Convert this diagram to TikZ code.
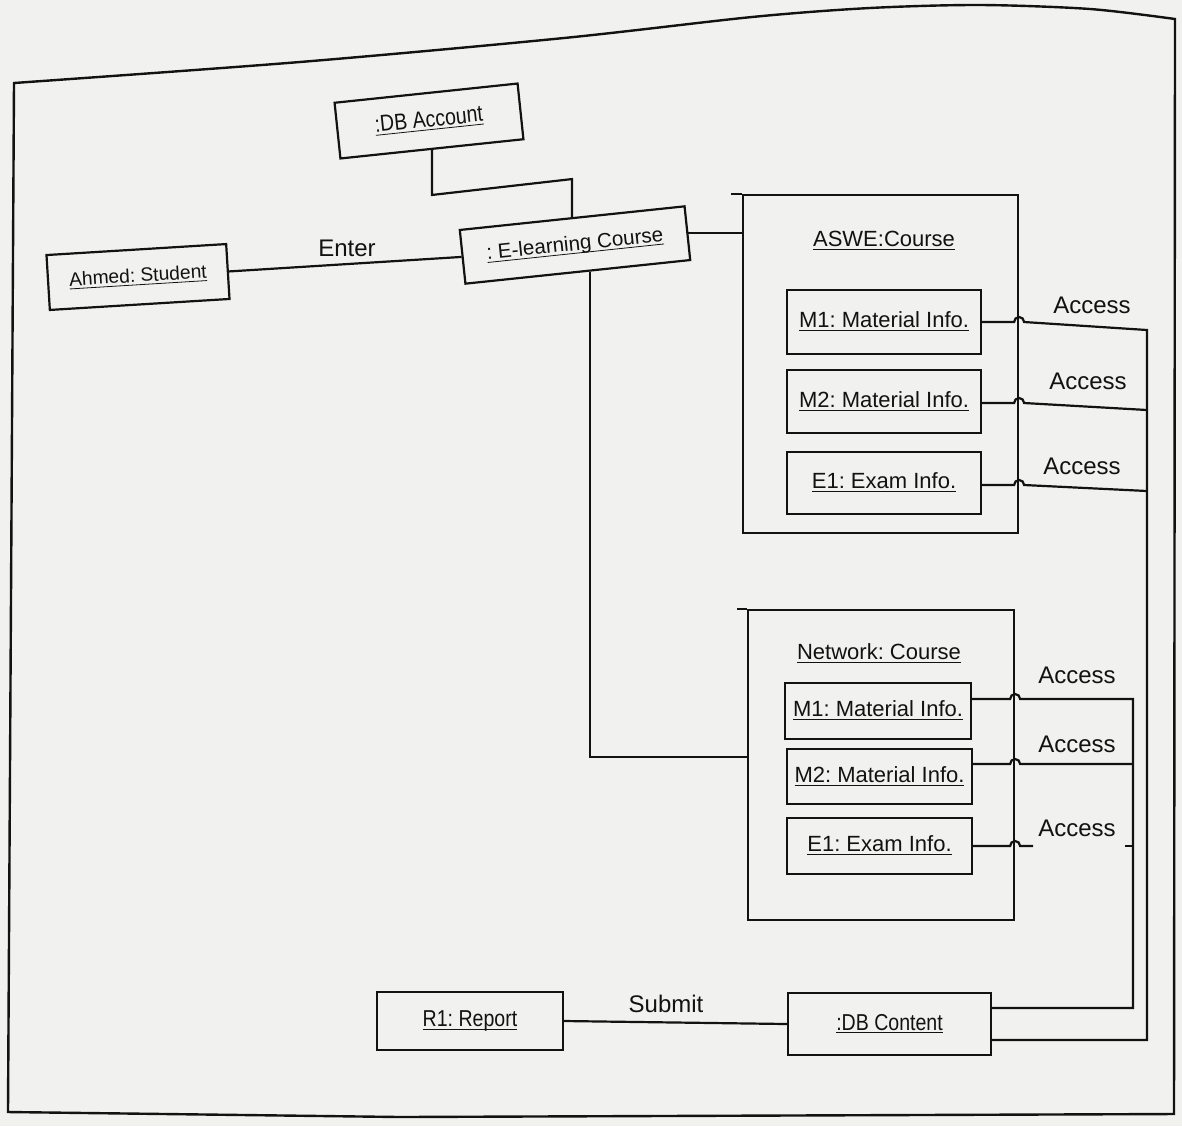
\documentclass[tikz,border=0pt]{standalone}
\usepackage{fontspec}
\setmainfont{Liberation Sans}
\newfontfamily\narrowsans[FakeStretch=0.85]{Liberation Sans}
\usetikzlibrary{calc}
\definecolor{paper}{RGB}{241,241,239}
\definecolor{ink}{RGB}{18,18,18}
\frenchspacing
% underline that ignores descenders
\newcommand\ulin[1]{\underline{\raisebox{0pt}[\height][0pt]{#1}}}

\begin{document}
\begin{tikzpicture}[x=0.5pt,y=-0.5pt,
  objbox/.style={draw=ink, line width=1.1pt, inner sep=0pt, text=ink,
                 font=\fontsize{11}{13}\selectfont},
  narrowbox/.style={objbox, font=\narrowsans\fontsize{11.5}{13}\selectfont},
  framebox/.style={draw=ink, line width=1.1pt, inner sep=0pt},
  title/.style={inner sep=0pt, text=ink, font=\fontsize{11}{13}\selectfont},
  lbl/.style={inner sep=0pt, text=ink, font=\fontsize{12}{14}\selectfont},
  conn/.style={draw=ink, line width=1.1pt},
]
\useasboundingbox (0,0) rectangle (1182,1126);
\fill[paper] (0,0) rectangle (1182,1126);

% sheet border
\draw[draw=ink, line width=1.2pt] plot[smooth] coordinates
  {(14,83) (300,62) (564,38) (752,17) (870,8) (980,5) (1090,9) (1175,19)}
  -- (1174,1114) -- (400,1117) -- (8,1112) -- cycle;

% top row objects
\node[narrowbox, minimum width=92pt, minimum height=28pt, rotate=6] (dba) at (429,121) {\ulin{:DB Account}};
\node[objbox, font=\fontsize{10.3}{12}\selectfont, minimum width=113pt, minimum height=27pt, rotate=6] (el) at (575,245) {\ulin{: E-learning Course}};
\node[objbox, font=\fontsize{9.6}{12}\selectfont, minimum width=90pt, minimum height=27.5pt, rotate=3.5] (st) at (138,277) {\ulin{Ahmed: Student}};

% ASWE course frame and its parts
\node[framebox, minimum width=137.5pt, minimum height=169pt] (aswe) at (880.5,364) {};
\node[title] (asweT) at (884,241) {\ulin{ASWE:Course}};
\node[objbox, minimum width=97pt, minimum height=32pt] (am1) at (884,322) {\ulin{M1: Material Info.}};
\node[objbox, minimum width=97pt, minimum height=31.5pt] (am2) at (884,401.5) {\ulin{M2: Material Info.}};
\node[objbox, minimum width=97pt, minimum height=31pt] (ae1) at (884,483) {\ulin{E1: Exam Info.}};

% Network course frame and its parts
\node[framebox, minimum width=133pt, minimum height=155pt] (net) at (881,765) {};
\node[title] (netT) at (879,654) {\ulin{Network: Course}};
\node[objbox, minimum width=93pt, minimum height=28pt] (nm1) at (878,711) {\ulin{M1: Material Info.}};
\node[objbox, minimum width=92.5pt, minimum height=27.5pt] (nm2) at (879.5,776.5) {\ulin{M2: Material Info.}};
\node[objbox, minimum width=92.5pt, minimum height=28pt] (ne1) at (879.5,846) {\ulin{E1: Exam Info.}};

% bottom row objects
\node[narrowbox, minimum width=93pt, minimum height=29pt] (r1) at (470,1021) {\ulin{R1: Report}};
\node[narrowbox, minimum width=101.5pt, minimum height=31pt] (dbc) at (889.5,1024) {\ulin{:DB Content}};

% frame top edges run a little past the left side
\draw[conn] (aswe.north west) -- ++(-11,0);
\draw[conn] (net.north west) -- ++(-10,0);

% links of the e-learning course
\draw[conn] (st.east) -- (el.west);
\node[lbl] (enterL) at (347,248) {Enter};
\draw[conn] (dba.south) -- ++(0,45) -- ($(el.north)+(0,-38)$) -- (el.north);
\draw[conn] (el.east) -- (el.east -| aswe.west);
\coordinate (elfoot) at ($(el.south west)!0.553!(el.south east)$);
\draw[conn] (elfoot) |- ($(net.west)+(0,-8)$);

% access links from the ASWE course
\coordinate (ta1) at (1147,330);
\coordinate (ta2) at (1147,410);
\coordinate (ta3) at (1147,491);
\coordinate (dbcA) at ($(dbc.east)+(0,16)$);
\draw[conn] (am1.east) -- ++(32,0) arc[start angle=180,end angle=0,radius=2.5pt] -- (ta1) -- (ta1 |- dbcA) -- (dbcA);
\draw[conn] ($(am2.east)+(0,1.5)$) -- ++(32,0) arc[start angle=180,end angle=0,radius=2.5pt] -- (ta2);
\draw[conn] ($(ae1.east)+(0,2)$) -- ++(32,0) arc[start angle=180,end angle=0,radius=2.5pt] -- (ta3);
\node[lbl] (accA1) at (1092,305) {Access};
\node[lbl] (accA2) at (1088,381) {Access};
\node[lbl] (accA3) at (1082,466) {Access};

% access links from the Network course
\coordinate (tb1) at (1133,699);
\coordinate (tb2) at (1133,764);
\coordinate (tb3) at (1133,846);
\coordinate (dbcB) at ($(dbc.east)+(0,-16)$);
\draw[conn] ($(nm1.east)+(0,-12)$) -- ++(38,0) arc[start angle=180,end angle=0,radius=2.5pt] -- (tb1) -- (tb1 |- dbcB) -- (dbcB);
\draw[conn] ($(nm2.east)+(0,-12.5)$) -- ++(37,0) arc[start angle=180,end angle=0,radius=2.5pt] -- (tb2);
\draw[conn] (ne1.east) -- ++(37,0) arc[start angle=180,end angle=0,radius=2.5pt] -- ++(13,0);
\draw[conn] ($(tb3)+(-8,0)$) -- (tb3);
\node[lbl] (accB1) at (1077,675) {Access};
\node[lbl] (accB2) at (1077,744) {Access};
\node[lbl] (accB3) at (1077,828) {Access};

% report submission
\draw[conn] (r1.east) -- (dbc.west);
\node[lbl] (submitL) at (666,1004) {Submit};
\end{tikzpicture}
\end{document}
